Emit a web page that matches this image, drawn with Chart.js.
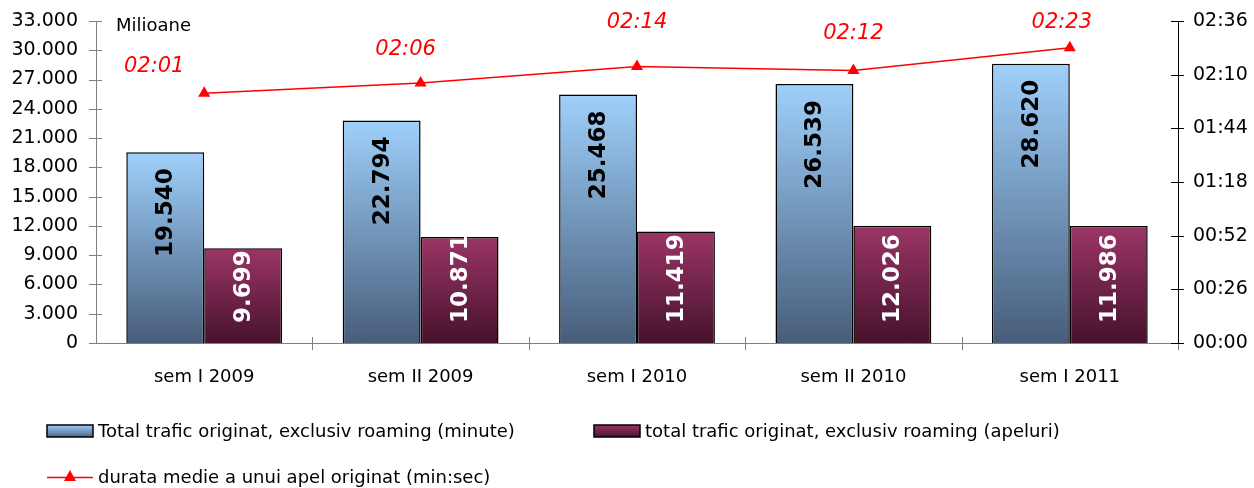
<!DOCTYPE html>
<html>
<head>
<meta charset="utf-8">
<script src="https://cdn.jsdelivr.net/npm/chart.js@4/dist/chart.umd.min.js"></script>
<style>
  html, body { margin: 0; padding: 0; background: #fff; }
  #wrap { width: 1254px; height: 488px; position: relative; }
</style>
</head>
<body>
<div id="wrap"><canvas id="chart" width="1254" height="488"></canvas></div>
<script>
// chart data
const categories = ['sem I 2009', 'sem II 2009', 'sem I 2010', 'sem II 2010', 'sem I 2011'];
const minute = [19540, 22794, 25468, 26539, 28620];   // milioane minute
const apeluri = [9699, 10871, 11419, 12026, 11986];   // milioane apeluri
const durata = [121, 126, 134, 132, 143];              // secunde (02:01 ...)
const seriesNames = [
    'Total trafic originat, exclusiv roaming (minute)',
    'total trafic originat, exclusiv roaming (apeluri)',
    'durata medie a unui apel originat (min:sec)'
];

const FONT = "'DejaVu Sans', Verdana, sans-serif";

// 19540 -> "19.540"
function fmtNum(v) {
    return String(Math.round(v)).replace(/\B(?=(\d{3})+(?!\d))/g, '.');
}
// 121 -> "02:01"
function fmtTime(s) {
    const m = Math.floor(s / 60), r = Math.round(s % 60);
    return String(m).padStart(2, '0') + ':' + String(r).padStart(2, '0');
}

// gradient going from the top of each bar down to the base
function barGradient(top, bottom) {
    return function(ctx) {
        const chart = ctx.chart;
        if (!chart.chartArea || ctx.type !== 'data') return top;
        const y = chart.scales.y;
        const g = chart.ctx.createLinearGradient(0, y.getPixelForValue(ctx.raw), 0, y.getPixelForValue(0));
        g.addColorStop(0, top);
        g.addColorStop(1, bottom);
        return g;
    };
}

// axis lines + ticks crossing them, like the original
const axisTicks = {
    id: 'axisTicks',
    afterDraw(chart) {
        const c = chart.ctx, a = chart.chartArea;
        c.save();
        c.lineWidth = 1;
        c.strokeStyle = '#808080';
        const lx = Math.round(a.left) + 0.5;
        c.beginPath(); c.moveTo(lx, a.top); c.lineTo(lx, a.bottom); c.stroke();
        const y = chart.scales.y;
        y.ticks.forEach((t, i) => {
            const py = Math.round(y.getPixelForTick(i)) + 0.5;
            c.beginPath(); c.moveTo(a.left - 7, py); c.lineTo(a.left + 6, py); c.stroke();
        });
        const n = categories.length;
        for (let i = 1; i <= n; i++) {
            const px = Math.round(a.left + (a.right - a.left) * i / n) + 0.5;
            c.beginPath(); c.moveTo(px, a.bottom - 6); c.lineTo(px, a.bottom + 7); c.stroke();
        }
        c.strokeStyle = '#000';
        const rx = Math.round(a.right) + 0.5;
        c.beginPath(); c.moveTo(rx, a.top); c.lineTo(rx, a.bottom); c.stroke();
        const y1 = chart.scales.y1;
        y1.ticks.forEach((t, i) => {
            const py = Math.round(y1.getPixelForTick(i)) + 0.5;
            c.beginPath(); c.moveTo(a.right - 7, py); c.lineTo(a.right + 6, py); c.stroke();
        });
        c.restore();
    }
};

// value labels on bars and line, unit text, legend
const labels = {
    id: 'labels',
    afterDatasetsDraw(chart) {
        const c = chart.ctx;
        c.save();
        c.font = 'bold 23px ' + FONT;
        c.textBaseline = 'middle';
        // blue bars: inside end, black
        chart.getDatasetMeta(0).data.forEach((bar, i) => {
            c.save();
            c.translate(bar.x, bar.y + 16);
            c.rotate(-Math.PI / 2);
            c.textAlign = 'right';
            c.fillStyle = '#000';
            c.fillText(fmtNum(minute[i]), 0, 1);
            c.restore();
        });
        // maroon bars: inside base, white
        chart.getDatasetMeta(1).data.forEach((bar, i) => {
            c.save();
            c.translate(bar.x, bar.base - 20);
            c.rotate(-Math.PI / 2);
            c.textAlign = 'left';
            c.fillStyle = '#fff';
            c.fillText(fmtNum(apeluri[i]), 0, 1);
            c.restore();
        });
        // line labels, placed by hand as in the original
        const shift = [[-50, -27], [-15, -33], [0, -44], [0, -37], [-8, -25]];
        c.font = 'italic 21px ' + FONT;
        c.fillStyle = '#ff0000';
        c.textAlign = 'center';
        chart.getDatasetMeta(2).data.forEach((pt, i) => {
            c.fillText(fmtTime(durata[i]), pt.x + shift[i][0], pt.y + shift[i][1]);
        });
        c.restore();
    },
    afterDraw(chart) {
        const c = chart.ctx, a = chart.chartArea;
        c.save();
        c.font = '18px ' + FONT;
        c.fillStyle = '#000';
        c.textBaseline = 'middle';
        c.textAlign = 'left';
        c.fillText('Milioane', a.left + 20, 26);

        // legend
        const box = (x, y, top, bottom) => {
            const g = c.createLinearGradient(0, y, 0, y + 12);
            g.addColorStop(0, top); g.addColorStop(1, bottom);
            c.fillStyle = g;
            c.fillRect(x, y, 46, 12);
            c.strokeStyle = '#000'; c.lineWidth = 1.5;
            c.strokeRect(x, y, 46, 12);
        };
        box(47, 425, '#9fd0fb', '#4b6584');
        box(594, 425, '#9b3566', '#4a1430');
        c.fillStyle = '#000';
        c.fillText(seriesNames[0], 98, 432);
        c.fillText(seriesNames[1], 645, 432);
        c.strokeStyle = '#ff0000'; c.lineWidth = 1.5;
        c.beginPath(); c.moveTo(47, 477.5); c.lineTo(93, 477.5); c.stroke();
        c.fillStyle = '#ff0000';
        c.beginPath(); c.moveTo(70, 470); c.lineTo(76, 481); c.lineTo(64, 481); c.closePath(); c.fill();
        c.fillStyle = '#000';
        c.fillText(seriesNames[2], 98, 478);
        c.restore();
    }
};

// fixed axis sizes so the plot area sits where it does in the original
function fixV(width) {
    return function(s) {
        s.width = width;
        s.paddingTop = 0;
        s.paddingBottom = 0;
    };
}

new Chart('chart', {
    data: {
        labels: categories,
        datasets: [
            {
                type: 'bar',
                label: seriesNames[0],
                data: minute,
                yAxisID: 'y',
                backgroundColor: barGradient('#9fd0fb', '#475d7a'),
                borderColor: '#000',
                borderWidth: 1.5,
                barPercentage: 1,
                categoryPercentage: 0.72,
                order: 2
            },
            {
                type: 'bar',
                label: seriesNames[1],
                data: apeluri,
                yAxisID: 'y',
                backgroundColor: barGradient('#9b3566', '#46122c'),
                borderColor: '#000',
                borderWidth: 1.5,
                barPercentage: 1,
                categoryPercentage: 0.72,
                order: 2
            },
            {
                type: 'line',
                label: seriesNames[2],
                data: durata,
                yAxisID: 'y1',
                borderColor: '#ff0000',
                backgroundColor: '#ff0000',
                borderWidth: 1.5,
                pointStyle: 'triangle',
                pointRadius: 7,
                pointBorderWidth: 0,
                tension: 0,
                order: 1
            }
        ]
    },
    options: {
        responsive: false,
        animation: false,
        layout: { padding: { top: 21, left: 0, right: 0, bottom: 0 } },
        plugins: {
            legend: { display: false },
            tooltip: { enabled: false }
        },
        scales: {
            x: {
                offset: true,
                grid: { display: false, drawTicks: false },
                border: { display: true, color: '#808080', width: 1 },
                ticks: { color: '#000', font: { family: FONT, size: 18 }, padding: 24, maxRotation: 0 },
                afterFit(s) { s.height = 145; s.paddingLeft = 0; s.paddingRight = 0; }
            },
            y: {
                position: 'left',
                min: 0, max: 33000,
                grid: { display: false, drawTicks: false },
                ticks: { stepSize: 3000, color: '#000', font: { family: FONT, size: 19 }, padding: 18,
                         callback: v => fmtNum(v) },
                afterFit: fixV(96)
            },
            y1: {
                position: 'right',
                min: 0, max: 156,
                grid: { display: false, drawTicks: false },
                ticks: { stepSize: 26, color: '#000', font: { family: FONT, size: 19 }, padding: 15,
                         callback: v => fmtTime(v) },
                afterFit: fixV(76)
            }
        }
    },
    plugins: [axisTicks, labels]
});
</script>
</body>
</html>
